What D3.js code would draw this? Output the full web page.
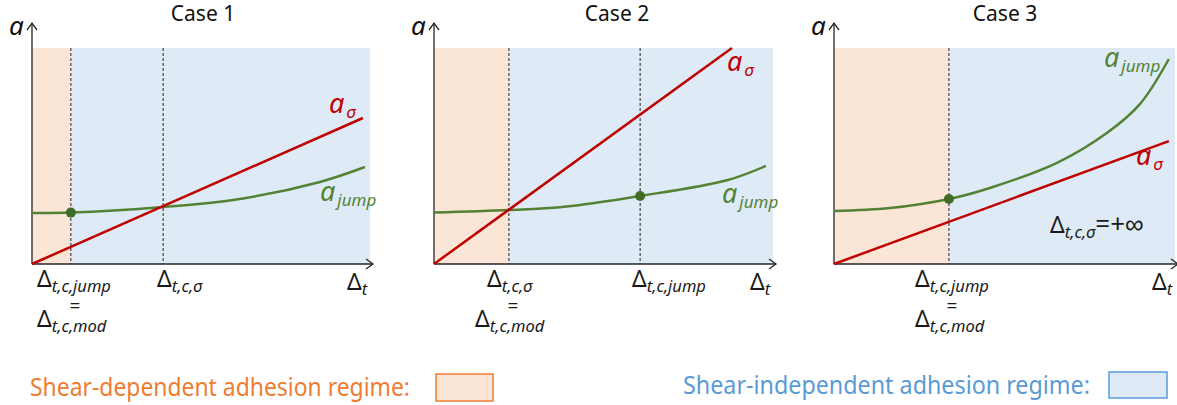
<!DOCTYPE html>
<html>
<head>
<meta charset="utf-8">
<script src="https://cdn.jsdelivr.net/npm/d3@7"></script>
<style>
  body { margin: 0; background: #fff; }
  svg { display: block; font-family: "Noto Sans", sans-serif; }
</style>
</head>
<body>
<div id="chart"></div>
<script>
// each case: x and y in arbitrary units (0..10)
var cases = ["Case 1", "Case 2", "Case 3"];

var sigmaX = [[0, 9.79], [0, 8.79], [0, 9.82]];
var sigmaY = [[0, 6.76], [0, 10], [0, 5.69]];

var jumpX = [
    [0, 1.15, 3.88, 5.95, 8.52, 9.85],
    [0, 2.21, 3.78, 6.08, 8.67, 9.79],
    [0, 1.64, 3.37, 4.57, 6.54, 8.0, 8.97, 9.82]
];
var jumpY = [
    [2.36, 2.38, 2.64, 2.96, 3.80, 4.49],
    [2.38, 2.50, 2.64, 3.15, 3.89, 4.54],
    [2.45, 2.59, 3.01, 3.52, 4.68, 6.06, 7.40, 9.49]
];

// critical displacements (dashed lines) and the one that is Δt,c,mod
var critX = [[1.15, 3.88], [2.21, 6.08], [3.37]];
var modX = [1.15, 2.21, 3.37];
var dotX = [1.15, 6.08, 3.37];
var dotY = [2.38, 3.15, 3.01];

var legendLabels = ["Shear-dependent adhesion regime:", "Shear-independent adhesion regime:"];

var W = 1177, H = 405;
var panels = [
    { left: 32, right: 370 },
    { left: 434, right: 773 },
    { left: 834, right: 1175 }
];
var top0 = 48, bottom0 = 264;

var red = "#C00000", green = "#548235", orange = "#ED7D31", blue = "#5B9BD5";
var orangeFill = "#FBE5D6", blueFill = "#DEEBF7", axisCol = "#262626";

var svg = d3.select("#chart").append("svg")
    .attr("width", W)
    .attr("height", H);

// Δ label with an italic subscript
function deltaLabel(g, x, y, sub, extra) {
    var t = g.append("text")
        .attr("x", x).attr("y", y)
        .attr("font-size", 23)
        .attr("fill", "#1a1a1a");
    t.append("tspan").text("Δ");
    t.append("tspan")
        .attr("font-size", 16.5)
        .attr("font-style", "italic")
        .attr("dy", 5)
        .text(sub);
    if (extra) {
        t.append("tspan").attr("dy", -5).attr("font-size", 26).text(extra);
    }
    return t;
}

function curveLabel(g, x, y, sub, color) {
    var t = g.append("text")
        .attr("x", x).attr("y", y)
        .attr("fill", color)
        .attr("font-style", "italic")
        .attr("font-size", 27);
    t.append("tspan").text("a");
    t.append("tspan").attr("font-size", 17).attr("dy", 5).attr("dx", 2).text(sub);
}

panels.forEach(function (p, i) {
    var x = d3.scaleLinear().domain([0, 10]).range([p.left, p.right]);
    var y = d3.scaleLinear().domain([0, 10]).range([bottom0, top0]);
    var g = svg.append("g");

    // regime backgrounds
    g.append("rect")
        .attr("x", x(0)).attr("y", y(10))
        .attr("width", x(modX[i]) - x(0)).attr("height", y(0) - y(10))
        .attr("fill", orangeFill);
    g.append("rect")
        .attr("x", x(modX[i])).attr("y", y(10))
        .attr("width", x(10) - x(modX[i])).attr("height", y(0) - y(10))
        .attr("fill", blueFill);

    // dashed markers
    g.selectAll(".crit").data(critX[i]).enter().append("line")
        .attr("x1", function (d) { return x(d); })
        .attr("x2", function (d) { return x(d); })
        .attr("y1", y(10)).attr("y2", y(0))
        .attr("stroke", "#222")
        .attr("stroke-width", 1)
        .attr("stroke-dasharray", "3,2");

    // axes (no ticks) + arrow heads
    g.append("g")
        .attr("transform", "translate(0," + y(0) + ")")
        .call(d3.axisBottom(x).tickValues([]).tickSizeOuter(0))
        .select(".domain").attr("stroke", axisCol).attr("stroke-width", 1.3)
        .attr("d", "M" + x(0) + ",0H" + (x(10) + 3));
    g.append("g")
        .attr("transform", "translate(" + x(0) + ",0)")
        .call(d3.axisLeft(y).tickValues([]).tickSizeOuter(0))
        .select(".domain").attr("stroke", axisCol).attr("stroke-width", 1.3)
        .attr("d", "M0," + y(0) + "V" + (top0 - 25));
    g.append("path")
        .attr("d", "M" + (x(10) - 4) + "," + (y(0) - 5) + "L" + (x(10) + 3) + "," + y(0) + "L" + (x(10) - 4) + "," + (y(0) + 5))
        .attr("fill", "none").attr("stroke", axisCol).attr("stroke-width", 1.3);
    g.append("path")
        .attr("d", "M" + (x(0) - 5) + "," + (top0 - 18) + "L" + x(0) + "," + (top0 - 25) + "L" + (x(0) + 5) + "," + (top0 - 18))
        .attr("fill", "none").attr("stroke", axisCol).attr("stroke-width", 1.3);

    // curves
    var line = d3.line()
        .x(function (d) { return x(d[0]); })
        .y(function (d) { return y(d[1]); });
    g.append("path")
        .datum(d3.zip(jumpX[i], jumpY[i]))
        .attr("d", line.curve(d3.curveCatmullRom.alpha(0.5)))
        .attr("fill", "none").attr("stroke", green).attr("stroke-width", 2.5);
    g.append("path")
        .datum(d3.zip(sigmaX[i], sigmaY[i]))
        .attr("d", line.curve(d3.curveLinear))
        .attr("fill", "none").attr("stroke", red).attr("stroke-width", 2.5);

    g.append("circle")
        .attr("cx", x(dotX[i])).attr("cy", y(dotY[i]))
        .attr("r", 5)
        .attr("fill", "#3f6d28");

    // title and axis names
    g.append("text")
        .attr("x", [203, 617, 1005][i]).attr("y", 21)
        .attr("text-anchor", "middle")
        .attr("font-size", 21)
        .attr("fill", "#111")
        .text(cases[i]);
    g.append("text")
        .attr("x", x(0) - 23).attr("y", 35)
        .attr("font-style", "italic")
        .attr("font-size", 26)
        .attr("fill", "#111")
        .text("a");
    deltaLabel(g, x(10) - 23, 290, "t");
});

// annotations
var g1 = svg.append("g");
curveLabel(g1, 329, 113, "σ", red);
curveLabel(g1, 320, 201, "jump", green);
curveLabel(g1, 727, 71, "σ", red);
curveLabel(g1, 722, 203, "jump", green);
curveLabel(g1, 1136, 165, "σ", red);
curveLabel(g1, 1104, 67, "jump", green);

deltaLabel(g1, 37, 287, "t,c,jump");
deltaLabel(g1, 37, 327, "t,c,mod");
deltaLabel(g1, 157, 287, "t,c,σ");
deltaLabel(g1, 487, 287, "t,c,σ");
deltaLabel(g1, 475, 327, "t,c,mod");
deltaLabel(g1, 632, 287, "t,c,jump");
deltaLabel(g1, 915, 287, "t,c,jump");
deltaLabel(g1, 915, 327, "t,c,mod");
deltaLabel(g1, 1050, 233, "t,c,σ", "=+∞");

[75, 513, 952].forEach(function (cx) {
    g1.append("text")
        .attr("x", cx).attr("y", 313)
        .attr("text-anchor", "middle")
        .attr("font-size", 19)
        .attr("fill", "#1a1a1a")
        .text("=");
});

// legend
var lg = svg.append("g");
lg.append("text")
    .attr("x", 30).attr("y", 396)
    .attr("font-size", 25)
    .attr("fill", orange)
    .attr("textLength", 380).attr("lengthAdjust", "spacingAndGlyphs")
    .text(legendLabels[0]);
lg.append("rect")
    .attr("x", 436).attr("y", 374).attr("width", 57).attr("height", 27)
    .attr("fill", orangeFill).attr("stroke", orange).attr("stroke-width", 1.5);
lg.append("text")
    .attr("x", 683).attr("y", 394)
    .attr("font-size", 25)
    .attr("fill", blue)
    .attr("textLength", 407).attr("lengthAdjust", "spacingAndGlyphs")
    .text(legendLabels[1]);
lg.append("rect")
    .attr("x", 1109).attr("y", 372).attr("width", 58).attr("height", 26)
    .attr("fill", blueFill).attr("stroke", blue).attr("stroke-width", 1.5);
</script>
</body>
</html>
